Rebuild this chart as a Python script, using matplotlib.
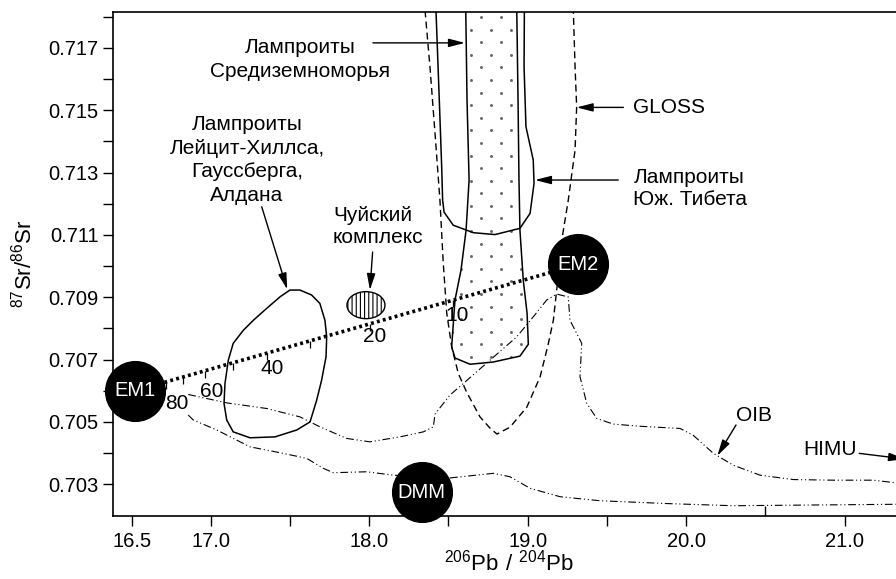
import numpy as np
import matplotlib
matplotlib.use("Agg")
import matplotlib.pyplot as plt
from matplotlib.patches import Polygon, Ellipse
from matplotlib.ticker import FixedLocator, FixedFormatter

plt.rcParams["font.family"] = ["Liberation Sans", "DejaVu Sans"]
plt.rcParams["mathtext.fontset"] = "custom"
plt.rcParams["mathtext.rm"] = "Liberation Sans"
plt.rcParams["hatch.linewidth"] = 0.8

# ---- end-member compositions (206Pb/204Pb, 87Sr/86Sr) ----
em_names = ["EM1", "EM2", "DMM"]
em_pb = [16.52, 19.32, 18.33]
em_sr = [0.70600, 0.71005, 0.70275]

# ---- EM1–EM2 mixing ticks (% EM1) ----
mix_pct = [80, 70, 60, 50, 40, 30, 20, 10]
mix_tick_pb = [16.717, 16.822, 16.963, 17.141, 17.352, 17.625, 18.004, 18.528]
mix_label_text = ["80", "60", "40", "20", "10"]
mix_label_pb = [16.788, 17.005, 17.384, 18.036, 18.556]
mix_label_sr = [0.70559, 0.70596, 0.70671, 0.70775, 0.70842]

# ---- Leucite Hills / Gaussberg / Aldan lamproite field ----
lh_pb = [17.499, 17.562, 17.636, 17.688, 17.720, 17.731, 17.727, 17.699, 17.668,
         17.626, 17.542, 17.405, 17.247, 17.141, 17.100, 17.083, 17.089, 17.110,
         17.141, 17.205, 17.268, 17.352, 17.436]
lh_sr = [0.70923, 0.70923, 0.70907, 0.70880, 0.70826, 0.70773, 0.70709, 0.70634,
         0.70570, 0.70500, 0.70474, 0.70452, 0.70449, 0.70468, 0.70506, 0.70559,
         0.70623, 0.70698, 0.70752, 0.70794, 0.70826, 0.70864, 0.70901]

# ---- Chuya complex ----
chuya_pb, chuya_sr = 17.979, 0.708745
chuya_w, chuya_h = 0.24, 0.000866

# ---- GLOSS field ----
gloss_pb = [18.352, 18.383, 18.415, 18.446, 18.467, 18.489, 18.520, 18.562, 18.615,
            18.699, 18.762, 18.806, 18.888, 18.994, 19.078, 19.128, 19.162, 19.183,
            19.215, 19.256, 19.299, 19.309, 19.299, 19.288]
gloss_sr = [0.71820, 0.71639, 0.71425, 0.71211, 0.71009, 0.70849, 0.70741, 0.70655,
            0.70595, 0.70516, 0.70480, 0.70461, 0.70483, 0.70547, 0.70644, 0.70746,
            0.70826, 0.70923, 0.71083, 0.71211, 0.71372, 0.71511, 0.71639, 0.71820]

# ---- Mediterranean lamproites ----
med_pb = [18.609, 18.617, 18.630, 18.611, 18.579, 18.541, 18.520, 18.541, 18.636,
          18.781, 18.951, 19.004, 18.996, 18.972, 18.951, 18.945, 18.939, 18.931]
med_sr = [0.71820, 0.71532, 0.71276, 0.71115, 0.70987, 0.70891, 0.70741, 0.70705,
          0.70685, 0.70692, 0.70711, 0.70749, 0.70849, 0.70955, 0.71115, 0.71276,
          0.71532, 0.71820]

# ---- South Tibet lamproites ----
tib_pb = [18.421, 18.442, 18.457, 18.463, 18.472, 18.530, 18.657, 18.794, 18.951,
          19.015, 19.040, 19.035, 18.989, 18.977, 18.979]
tib_sr = [0.71820, 0.71532, 0.71318, 0.71211, 0.71173, 0.71131, 0.71107, 0.71101,
          0.71121, 0.71169, 0.71265, 0.71340, 0.71447, 0.71639, 0.71820]

# ---- OIB field: upper and lower boundaries ----
oib_up_pb = [16.857, 17.100, 17.352, 17.563, 17.689, 17.857, 18.004, 18.194, 18.341,
             18.404, 18.415, 18.509, 18.593, 18.762, 18.931, 19.035, 19.120, 19.183,
             19.256, 19.267, 19.341, 19.330, 19.373, 19.436, 19.540, 19.709, 19.962,
             20.045, 20.172, 20.298, 20.467, 20.677, 20.929, 21.182, 21.400]
oib_up_sr = [0.70588, 0.70561, 0.70543, 0.70516, 0.70484, 0.70447, 0.70436, 0.70452,
             0.70468, 0.70484, 0.70525, 0.70586, 0.70623, 0.70698, 0.70773, 0.70837,
             0.70891, 0.70910, 0.70901, 0.70826, 0.70752, 0.70645, 0.70559, 0.70511,
             0.70493, 0.70486, 0.70479, 0.70457, 0.70399, 0.70361, 0.70329, 0.70315,
             0.70313, 0.70313, 0.70300]
oib_lo_pb = [16.857, 16.889, 17.037, 17.247, 17.457, 17.605, 17.710, 17.773, 17.984,
             18.152, 18.489, 18.783, 18.888, 19.015, 19.204, 19.457, 19.878, 20.298,
             20.719, 21.400]
oib_lo_sr = [0.70522, 0.70506, 0.70474, 0.70420, 0.70399, 0.70383, 0.70351, 0.70337,
             0.70340, 0.70329, 0.70319, 0.70335, 0.70324, 0.70287, 0.70260, 0.70247,
             0.70238, 0.70231, 0.70233, 0.70236]

# ---- axes ticks ----
x_ticks = [16.5, 17.0, 17.5, 18.0, 18.5, 19.0, 19.5, 20.0, 21.0]
x_ticklabels = ["16.5", "17.0", "", "18.0", "", "19.0", "", "20.0", "21.0"]
x_inner_ticks = [20.5]
y_ticks = [0.703, 0.704, 0.705, 0.706, 0.707, 0.708, 0.709, 0.710, 0.711, 0.712,
           0.713, 0.714, 0.715, 0.716, 0.717, 0.718]
y_ticklabels = ["0.703", "", "0.705", "", "0.707", "", "0.709", "", "0.711", "",
                "0.713", "", "0.715", "", "0.717", ""]

FS = 15
TFS = 14.5
LS = 1.3
DASHDOTDOT = (0, (7, 2.5, 1, 2.5, 1, 2.5))

fig = plt.figure(figsize=(8.96, 5.79), dpi=100)
ax = fig.add_axes([0.1261, 0.1093, 0.8739, 0.8694])
ax.set_xlim(16.382, 21.325)
ax.set_ylim(0.70199, 0.71814)

for s in ("top", "left", "bottom"):
    ax.spines[s].set_linewidth(1.2)
ax.spines["right"].set_visible(False)

ax.xaxis.set_major_locator(FixedLocator(x_ticks))
ax.xaxis.set_major_formatter(FixedFormatter(x_ticklabels))
ax.xaxis.set_minor_locator(FixedLocator(x_inner_ticks))
ax.yaxis.set_major_locator(FixedLocator(y_ticks))
ax.yaxis.set_major_formatter(FixedFormatter(y_ticklabels))
ax.tick_params(axis="both", which="major", direction="out", length=7.5, width=1.0,
               labelsize=TFS, pad=3)
ax.tick_params(axis="x", which="major", pad=4)
ax.tick_params(axis="x", which="minor", direction="in", length=7.5, width=1.0)

ax.set_xlabel(r"$\mathregular{^{206}Pb\ /\ ^{204}Pb}$", fontsize=16)
ax.xaxis.set_label_coords(0.506, -0.068)
ax.set_ylabel(r"$\mathregular{^{87}Sr/^{86}Sr}$", fontsize=16)
ax.yaxis.set_label_coords(-0.098, 0.5)

# Mediterranean lamproite field with stipple
med_poly = Polygon(np.column_stack([med_pb, med_sr]), closed=True, fill=False,
                   edgecolor="black", lw=1.1, zorder=3)
ax.add_patch(med_poly)
gx0, gy0 = 18.706, 0.71799
dx, dy = 0.1244, 0.000404
rows = np.arange(0, 30)
dots_x, dots_y = [], []
for r in rows:
    off = 0.0 if r % 2 == 0 else -dx / 2
    xs = gx0 + off + dx * np.arange(-3, 4)
    dots_x.extend(xs)
    dots_y.extend([gy0 - r * dy] * len(xs))
dots = ax.scatter(dots_x, dots_y, s=4.5, color="#666666", linewidths=0, zorder=2)
dots.set_clip_path(med_poly)

# South Tibet field
ax.plot(tib_pb, tib_sr, color="black", lw=1.1, zorder=3)

# GLOSS
ax.plot(gloss_pb, gloss_sr, color="black", lw=1.0, ls=(0, (5, 3)), zorder=3)

# OIB
ax.plot(oib_up_pb, oib_up_sr, color="black", lw=0.8, ls=DASHDOTDOT, zorder=3)
ax.plot(oib_lo_pb, oib_lo_sr, color="black", lw=0.8, ls=DASHDOTDOT, zorder=3)

# Leucite Hills field
ax.add_patch(Polygon(np.column_stack([lh_pb, lh_sr]), closed=True, fill=False,
                     edgecolor="black", lw=1.1, zorder=3))

# EM1–EM2 mixing line with ticks
ax.plot([em_pb[0], em_pb[1]], [em_sr[0], em_sr[1]], color="black", lw=2.6,
        ls=(0, (0.8, 0.9)), zorder=4)
slope = (em_sr[1] - em_sr[0]) / (em_pb[1] - em_pb[0])
tick_y = [em_sr[0] + (p - em_pb[0]) * slope for p in mix_tick_pb]
ax.vlines(mix_tick_pb, np.array(tick_y) - 0.00022, tick_y, color="black", lw=0.9, zorder=4)
for t, px, py in zip(mix_label_text, mix_label_pb, mix_label_sr):
    ax.text(px, py, t, fontsize=FS, ha="center", va="center", zorder=6)

# Chuya complex
ax.add_patch(Ellipse((chuya_pb, chuya_sr), chuya_w, chuya_h, facecolor="white",
                     edgecolor="black", lw=1.0, hatch="||||", zorder=5))

# end-member circles
for n, px, py in zip(em_names, em_pb, em_sr):
    ax.plot(px, py, "o", ms=43, color="black", zorder=7, clip_on=False)
    ax.text(px, py, n, color="white", fontsize=14.5, ha="center", va="center", zorder=8)

arrow = dict(arrowstyle="-|>,head_length=0.7,head_width=0.18", color="black", lw=1.0,
             shrinkA=0, shrinkB=0, mutation_scale=14)

# labels and pointers
ax.text(17.566, 0.71663, "Лампроиты\nСредиземноморья", fontsize=FS, ha="center",
        va="center", linespacing=LS)
ax.annotate("", xy=(18.604, 0.71716), xytext=(18.023, 0.71716), arrowprops=arrow)

ax.text(17.228, 0.71340, "Лампроиты\nЛейцит-Хиллса,\nГауссберга,\nАлдана", fontsize=FS,
        ha="center", va="center", linespacing=LS)
ax.annotate("", xy=(17.482, 0.70925), xytext=(17.321, 0.71190), arrowprops=arrow)

ax.text(17.771, 0.71126, "Чуйский\nкомплекс", fontsize=FS, ha="left", va="center",
        linespacing=1.2)
ax.annotate("", xy=(18.004, 0.70923), xytext=(18.021, 0.71045), arrowprops=arrow)

ax.text(19.667, 0.71508, "GLOSS", fontsize=FS, ha="left", va="center")
ax.annotate("", xy=(19.309, 0.71509), xytext=(19.604, 0.71509), arrowprops=arrow)

ax.text(19.667, 0.71249, "Лампроиты\nЮж. Тибета", fontsize=FS, ha="left", va="center",
        linespacing=1.2)
ax.annotate("", xy=(19.046, 0.71276), xytext=(19.572, 0.71276), arrowprops=arrow)

ax.text(20.430, 0.70522, "OIB", fontsize=FS, ha="center", va="center")
ax.annotate("", xy=(20.197, 0.70391), xytext=(20.315, 0.70490), arrowprops=arrow)

ax.text(20.908, 0.70412, "HIMU", fontsize=FS, ha="center", va="center")
ax.annotate("", xy=(21.382, 0.70381), xytext=(21.093, 0.70399), arrowprops=arrow,
            annotation_clip=False)

fig.savefig("out.png", dpi=100)
